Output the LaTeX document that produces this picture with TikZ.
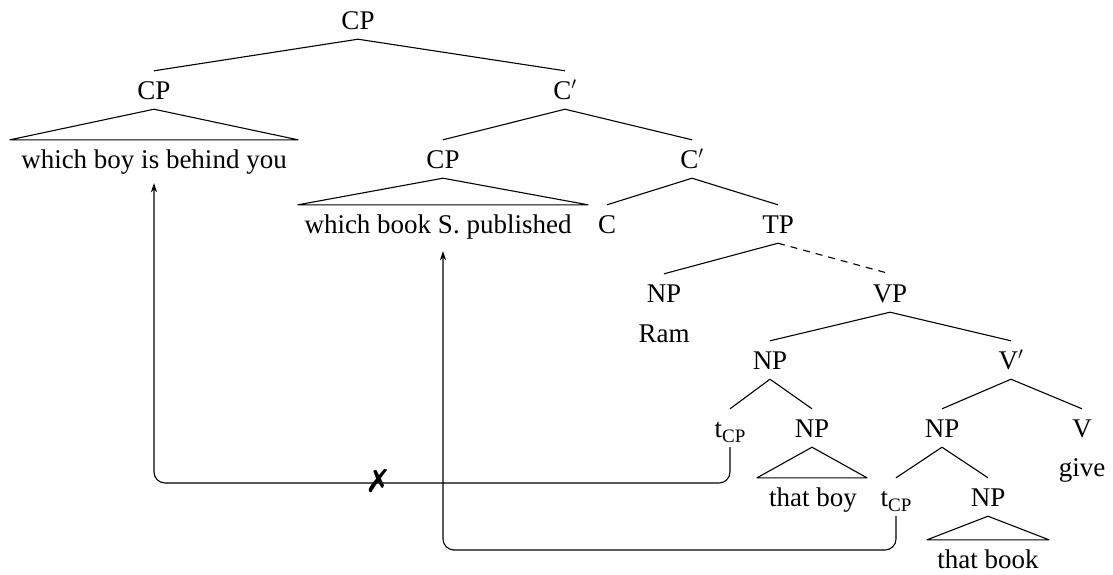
\documentclass[tikz,border=0pt]{standalone}
\usepackage{fontspec}
\usepackage{pifont}
\setmainfont{Liberation Serif}
\usetikzlibrary{calc,arrows.meta}
\newcommand{\trace}{t\raisebox{-5pt}{\fontsize{19}{21}\selectfont CP}}
\begin{document}
\begin{tikzpicture}[x=1pt,y=-1pt,
  lbl/.style={font=\fontsize{27}{32}\selectfont, text height=18pt, text depth=0pt,
              inner xsep=2pt, inner ysep=10pt},
  branch/.style={line width=1.1pt, line join=round},
  move/.style={line width=1.1pt, rounded corners=11pt, -{Stealth[length=9pt,width=6pt]}}
]
\useasboundingbox (0,0) rectangle (1113,574);

% labels of the tree
\node[lbl] (cp0) at (358,20) {CP};
\node[lbl] (cp1) at (154,90) {CP};
\node[lbl] (cb1) at (565,90) {C$'$};
\node[lbl] (wb)  at (154,159) {which boy is behind you};
\node[lbl] (cp2) at (443,159) {CP};
\node[lbl] (cb2) at (692,159) {C$'$};
\node[lbl] (wk)  at (438,224) {which book S. published};
\node[lbl] (c)   at (607,224) {C};
\node[lbl] (tp)  at (778,224) {TP};
\node[lbl] (npa) at (664,293) {NP};
\node[lbl] (vp)  at (890,293) {VP};
\node[lbl] (ram) at (664,333) {Ram};
\node[lbl] (npb) at (770,360) {NP};
\node[lbl] (vb)  at (1011,360) {V$'$};
\node[lbl] (t1)  at (730,428) {\trace};
\node[lbl] (npc) at (812,428) {NP};
\node[lbl] (npd) at (942,428) {NP};
\node[lbl] (v)   at (1082,428) {V};
\node[lbl] (give) at (1082,467) {give};
\node[lbl] (tb)  at (813,497) {that boy};
\node[lbl] (t2)  at (896,497) {\trace};
\node[lbl] (npe) at (988,497) {NP};
\node[lbl] (tk)  at (988,559) {that book};

% branches
\draw[branch] (cp0.south) -- (cp1.north);
\draw[branch] (cp0.south) -- (cb1.north);
\draw[branch] (cb1.south) -- (cp2.north);
\draw[branch] (cb1.south) -- (cb2.north);
\draw[branch] (cb2.south) -- (c.north);
\draw[branch] (cb2.south) -- (tp.north);
\draw[branch] (tp.south) -- (npa.north);
\draw[branch, dashed, dash pattern=on 7pt off 6pt] (tp.south) -- (vp.north);
\draw[branch] (vp.south) -- (npb.north);
\draw[branch] (vp.south) -- (vb.north);
\draw[branch] (npb.south) -- (t1.north);
\draw[branch] (npb.south) -- (npc.north);
\draw[branch] (vb.south) -- (npd.north);
\draw[branch] (vb.south) -- (v.north);
\draw[branch] (npd.south) -- (t2.north);
\draw[branch] (npd.south) -- (npe.north);

% roofs over unanalysed phrases
\draw[branch] (cp1.south) -- ($(cp1.south |- wb.north)+(-144,0)$) -- ($(cp1.south |- wb.north)+(144,0)$) -- cycle;
\draw[branch] (cp2.south) -- ($(cp2.south |- wk.north)+(-145,0)$) -- ($(cp2.south |- wk.north)+(145,0)$) -- cycle;
\draw[branch] (npc.south) -- ($(npc.south |- tb.north)+(-55,0)$) -- ($(npc.south |- tb.north)+(55,0)$) -- cycle;
\draw[branch] (npe.south) -- ($(npe.south |- tk.north)+(-61,0)$) -- ($(npe.south |- tk.north)+(61,0)$) -- cycle;

% movement paths
\coordinate (lowA) at (0,483);
\coordinate (lowB) at (0,550);
\draw[move] (t1.south) -- (t1.south |- lowA) -- (wb.south |- lowA) -- ([yshift=-5pt]wb.south);
\draw[move] (t2.south) -- (t2.south |- lowB) -- (cp2.south |- lowB) -- ($(cp2.south |- wk.south)+(0,8)$);
\node[inner sep=0pt, font=\fontsize{32}{36}\selectfont] (nogo) at (378,481) {\ding{55}};
\end{tikzpicture}
\end{document}
